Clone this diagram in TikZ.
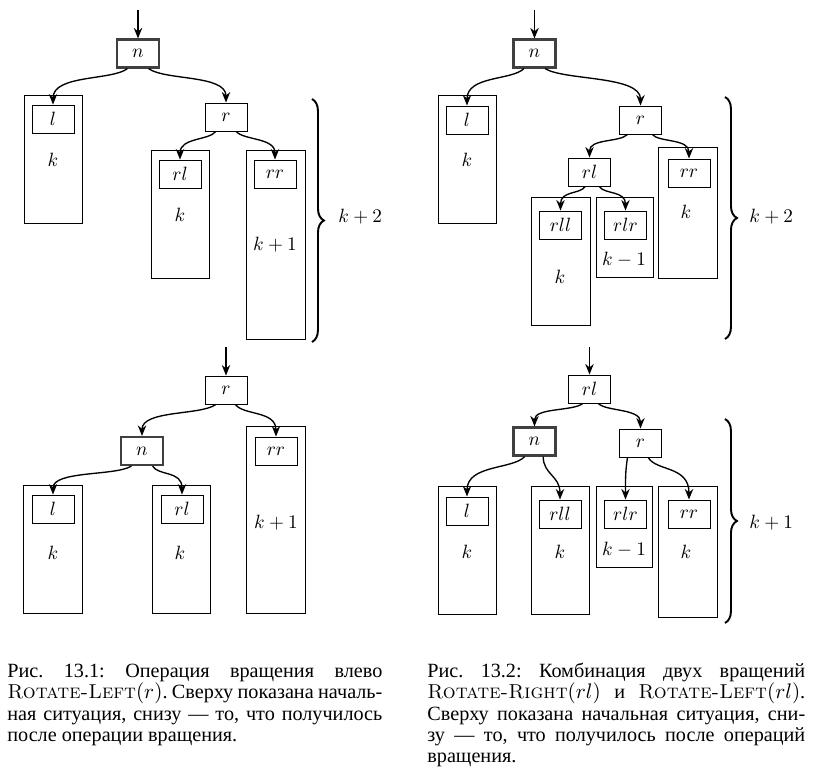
\documentclass[tikz,border=0pt]{standalone}
\usepackage{fontspec}
\newfontfamily\cyrfont{Liberation Serif}
\usetikzlibrary{arrows.meta,decorations.pathreplacing}
\newcommand\lmsc[1]{{\normalfont\textsc{#1}}}
\frenchspacing
\begin{document}
\begin{tikzpicture}[x=0.52pt,y=0.52pt,
  ibox/.style={draw,line width=0.5pt,minimum width=21.84pt,minimum height=14.56pt,inner sep=0pt},
  nbox/.style={ibox,line width=1.1pt,draw=black!75},
  obox/.style 2 args={draw,line width=0.5pt,minimum width=#1*0.52pt,minimum height=#2*0.52pt,inner sep=0pt},
  lbl/.style={inner sep=0pt},
  arr/.style={line width=0.7pt,-{Stealth[length=5.5pt,width=4.4pt,inset=1.8pt]}},
  brc/.style={decorate,decoration={brace,amplitude=6.2pt},line width=1pt},
  capline/.style={anchor=base west,inner sep=0pt,font=\cyrfont\fontsize{10.5}{12}\selectfont\frenchspacing},
]
\useasboundingbox (0,0) rectangle (820,-779);

% ---------- top left ----------
\coordinate (topA) at (138,-10);
\node[nbox] (nA) at (138,-53.5) {$n$};
\node[obox={58}{128}] (LoA) at (53,-159) {};
\node[ibox] (lA) at (53,-119) {$l$};
\node[lbl] (kA1) at (53,-160) {$k$};
\node[ibox] (rA) at (226,-117) {$r$};
\node[obox={58}{128}] (RLoA) at (180,-214) {};
\node[ibox] (rlA) at (180,-174) {$rl$};
\node[lbl] (kA2) at (180,-215) {$k$};
\node[obox={59}{189}] (RRoA) at (275.5,-244.5) {};
\node[ibox] (rrA) at (275,-174) {$rr$};
\node[lbl] (kA3) at (275,-245) {$k+1$};
\coordinate (brA1) at (312,-99);
\coordinate (brA2) at (312,-342);
\draw[brc] (brA1) -- (brA2);
\node[lbl,anchor=west] (hA) at (338,-217) {$k+2$};
\draw[arr] (topA) -- (nA.north);
\draw[arr] (nA.-125) .. controls +(-15,-12) and +(0,30) .. (lA.north);
\draw[arr] (nA.-55) .. controls +(16,-12) and +(0,28) .. (rA.north);
\draw[arr] (rA.-125) .. controls +(-7,-9) and +(0,22) .. (rlA.north);
\draw[arr] (rA.-55) .. controls +(8,-9) and +(0,22) .. (rrA.north);

% ---------- bottom left ----------
\coordinate (topB) at (226,-347);
\node[ibox] (rB) at (226,-390) {$r$};
\node[nbox] (nB) at (142,-451) {$n$};
\node[obox={59}{187}] (RRoB) at (275.5,-519.5) {};
\node[ibox] (rrB) at (276,-451) {$rr$};
\node[lbl] (kB3) at (276,-523) {$k+1$};
\node[obox={59}{128}] (LoB) at (52.5,-549) {};
\node[ibox] (lB) at (53,-509) {$l$};
\node[lbl] (kB1) at (53,-553) {$k$};
\node[obox={58}{128}] (RLoB) at (181,-549) {};
\node[ibox] (rlB) at (182,-509) {$rl$};
\node[lbl] (kB2) at (180,-553) {$k$};
\draw[arr] (topB) -- (rB.north);
\draw[arr] (rB.-125) .. controls +(-15,-11) and +(0,26) .. (nB.north);
\draw[arr] (rB.-57) .. controls +(8,-11) and +(0,26) .. (rrB.north);
\draw[arr] (nB.-125) .. controls +(-16,-10) and +(0,24) .. (lB.north);
\draw[arr] (nB.-55) .. controls +(6,-10) and +(0,24) .. (rlB.north);

% ---------- top right ----------
\coordinate (topC) at (534.5,-10);
\node[nbox] (nC) at (534.5,-53.5) {$n$};
\node[obox={58}{128}] (LoC) at (467,-159) {};
\node[ibox] (lC) at (467,-120) {$l$};
\node[lbl] (kC1) at (467,-160) {$k$};
\node[ibox] (rC) at (640.5,-120) {$r$};
\node[ibox] (rlC) at (589.5,-172) {$rl$};
\node[obox={59}{131}] (RRoC) at (687.5,-212.5) {};
\node[ibox] (rrC) at (689,-173) {$rr$};
\node[lbl] (kC4) at (686,-212) {$k$};
\node[obox={59}{128}] (RLLoC) at (560.5,-261) {};
\node[ibox] (rllC) at (560.5,-225) {$rll$};
\node[lbl] (kC2) at (560,-277) {$k$};
\node[obox={57}{80}] (RLRoC) at (624.5,-237) {};
\node[ibox] (rlrC) at (625.5,-225) {$rlr$};
\node[lbl] (kC3) at (624,-260) {$k-1$};
\coordinate (brC1) at (725,-97);
\coordinate (brC2) at (725,-339);
\draw[brc] (brC1) -- (brC2);
\node[lbl,anchor=west] (hC) at (749,-217) {$k+2$};
\draw[arr] (topC) -- (nC.north);
\draw[arr] (nC.-125) .. controls +(-12,-12) and +(0,30) .. (lC.north);
\draw[arr] (nC.-55) .. controls +(19,-12) and +(0,30) .. (rC.north);
\draw[arr] (rC.-132) .. controls +(-8,-8) and +(0,19) .. (rlC.north);
\draw[arr] (rC.-51) .. controls +(7,-8) and +(0,20) .. (rrC.north);
\draw[arr] (rlC.-107) .. controls +(-5,-8) and +(0,20) .. (rllC.north);
\draw[arr] (rlC.-56) .. controls +(5,-8) and +(0,20) .. (rlrC.north);

% ---------- bottom right ----------
\coordinate (topD) at (589.5,-347);
\node[ibox] (rlD) at (589.5,-389) {$rl$};
\node[nbox] (nD) at (534.5,-441.5) {$n$};
\node[ibox] (rD) at (640.5,-443) {$r$};
\node[obox={58}{128}] (LoD) at (467,-550) {};
\node[ibox] (lD) at (467,-511) {$l$};
\node[lbl] (kD1) at (467,-552) {$k$};
\node[obox={58}{128}] (RLLoD) at (560,-550) {};
\node[ibox] (rllD) at (560,-514) {$rll$};
\node[lbl] (kD2) at (560,-552) {$k$};
\node[obox={56}{81}] (RLRoD) at (624,-526.5) {};
\node[ibox] (rlrD) at (625.5,-514) {$rlr$};
\node[lbl] (kD3) at (624,-550) {$k-1$};
\node[obox={59}{131}] (RRoD) at (687.5,-551.5) {};
\node[ibox] (rrD) at (689,-514) {$rr$};
\node[lbl] (kD4) at (686,-552) {$k$};
\coordinate (brD1) at (725,-419);
\coordinate (brD2) at (725,-623);
\draw[brc] (brD1) -- (brD2);
\node[lbl,anchor=west] (hD) at (749,-523) {$k+1$};
\draw[arr] (topD) -- (rlD.north);
\draw[arr] (rlD.-115) .. controls +(-10,-8) and +(0,19) .. (nD.north);
\draw[arr] (rlD.-59) .. controls +(8,-8) and +(0,20) .. (rD.north);
\draw[arr] (nD.-123) .. controls +(-12,-13) and +(0,32) .. (lD.north);
\draw[arr] (nD.-60) .. controls +(0,-18) and +(0,24) .. (rllD.north);
\draw[arr] (rD.-132) .. controls +(-2,-15) and +(0,25) .. (rlrD.north);
\draw[arr] (rD.-62) .. controls +(8,-14) and +(0,34) .. (rrD.north);

% ---------- captions ----------
\node[capline] (capA1) at (7,-677) {\makebox[195pt][s]{Рис. 13.1: Операция вращения влево}};
\node[capline] (capA2) at (7,-698.5) {\makebox[195pt][s]{\lmsc{Rotate-Left}$(r)$. Сверху показана началь-}};
\node[capline] (capA3) at (7,-720) {\makebox[195pt][s]{ная ситуация, снизу — то, что получилось}};
\node[capline] (capA4) at (7,-741) {после операции вращения.};

\node[capline] (capB1) at (427,-677) {\makebox[196.5pt][s]{Рис. 13.2: Комбинация двух вращений}};
\node[capline] (capB2) at (427,-698.5) {\makebox[196.5pt][s]{\lmsc{Rotate-Right}$(rl)$ и \lmsc{Rotate-Left}$(rl)$.}};
\node[capline] (capB3) at (427,-720) {\makebox[196.5pt][s]{Сверху показана начальная ситуация, сни-}};
\node[capline] (capB4) at (427,-741) {\makebox[196.5pt][s]{зу — то, что получилось после операций}};
\node[capline] (capB5) at (427,-762.5) {вращения.};
\end{tikzpicture}
\end{document}
